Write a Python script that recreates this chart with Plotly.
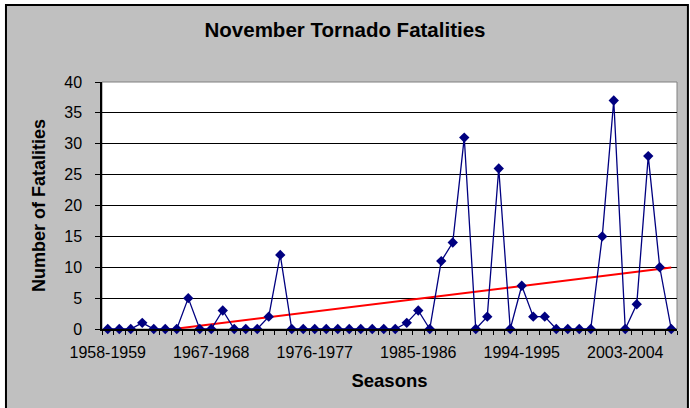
import numpy as np
import plotly.graph_objects as go

# November tornado fatalities per season, 1958-1959 .. 2007-2008
seasons = [f"{y}-{y + 1}" for y in range(1958, 2008)]
fatalities = [0, 0, 0, 1, 0, 0, 0, 5, 0, 0,
              3, 0, 0, 0, 2, 12, 0, 0, 0, 0,
              0, 0, 0, 0, 0, 0, 1, 3, 0, 11,
              14, 31, 0, 2, 26, 0, 7, 2, 2, 0,
              0, 0, 0, 15, 37, 0, 4, 28, 10, 0]
label_seasons = ["1958-1959", "1967-1968", "1976-1977",
                 "1985-1986", "1994-1995", "2003-2004"]

idx = np.arange(len(seasons))
label_idx = [seasons.index(s) for s in label_seasons]

# Linear trendline (Excel style)
slope, intercept = np.polyfit(idx, fatalities, 1)
trend = slope * idx + intercept

fig = go.Figure()

fig.add_trace(go.Scatter(
    x=idx, y=trend, mode="lines",
    line=dict(color="#FF0000", width=2),
    hoverinfo="skip", showlegend=False,
))
fig.add_trace(go.Scatter(
    x=idx, y=fatalities, mode="lines+markers",
    line=dict(color="#000080", width=1.3),
    marker=dict(symbol="diamond", size=8, color="#000080"),
    text=seasons, cliponaxis=False, showlegend=False,
))

font = "Liberation Sans, Arial, sans-serif"

# Grey chart area with black border, white plot area
fig.add_shape(type="rect", xref="paper", yref="paper",
              x0=-0.167, x1=1.019, y0=-0.36, y1=1.312,
              fillcolor="#C0C0C0", line=dict(color="black", width=2),
              layer="below")
fig.add_shape(type="rect", xref="paper", yref="paper",
              x0=0, x1=1, y0=0, y1=1,
              fillcolor="white", line=dict(color="#808080", width=1),
              layer="below")

fig.update_layout(
    width=690, height=408,
    margin=dict(l=102, r=13, t=82, b=79),
    paper_bgcolor="white",
    plot_bgcolor="rgba(0,0,0,0)",
    font=dict(family=font, size=16, color="black"),
    title=dict(text="<b>November Tornado Fatalities</b>",
               x=0.5, xanchor="center", y=0.927, yanchor="middle",
               font=dict(size=20.5)),
)

fig.update_xaxes(
    range=[-0.5, len(seasons) - 0.5],
    tickvals=label_idx, ticktext=label_seasons,
    ticks="", showgrid=False, zeroline=False,
    showline=True, linecolor="black", linewidth=1.5,
    tickfont=dict(size=16), ticklabelstandoff=8,
    minor=dict(tickmode="linear", tick0=-0.5, dtick=1,
               ticks="outside", ticklen=4, tickcolor="black", showgrid=False),
    title=dict(text="<b>Seasons</b>", font=dict(size=18.5), standoff=14),
)
fig.update_yaxes(
    range=[0, 40], dtick=5,
    ticks="outside", ticklen=5, tickcolor="black",
    showgrid=True, gridcolor="black", gridwidth=1,
    zeroline=False, showline=True, linecolor="black", linewidth=1.5,
    tickfont=dict(size=16), ticklabelstandoff=10,
    title=dict(text="<b>Number of Fatalities</b>", font=dict(size=18), standoff=14),
)

fig.write_html("out.html", config={"displayModeBar": False},
               post_script="document.body.style.margin='0';")
